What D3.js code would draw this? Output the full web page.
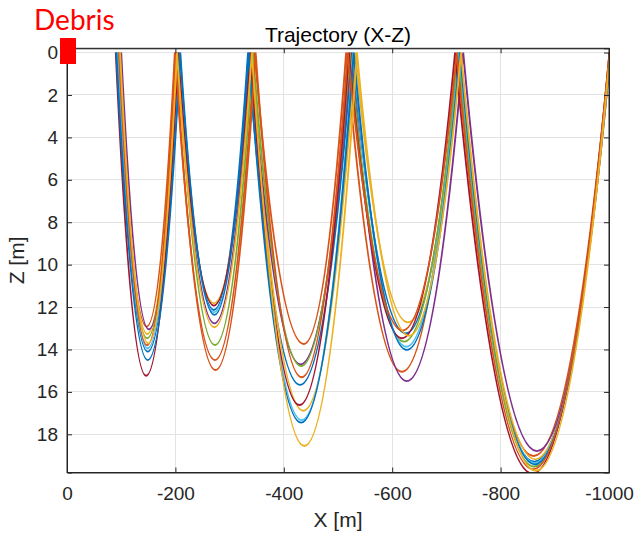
<!DOCTYPE html>
<html>
<head>
<meta charset="utf-8">
<script src="https://cdn.jsdelivr.net/npm/d3@7"></script>
<style>
  html, body { margin: 0; padding: 0; background: #ffffff; }
  svg { display: block; }
</style>
</head>
<body>
<svg id="chart" width="637" height="535"></svg>
<script>
// ---------------- data ----------------
const seriesNames = ["Debris 1","Debris 2","Debris 3","Debris 4","Debris 5",
                     "Debris 6","Debris 7","Debris 8","Debris 9","Debris 10"];
const seriesColors = ["#0072BD","#D95319","#EDB120","#7E2F8E","#77AC30",
                      "#4DBEEE","#A2142F","#0072BD","#D95319","#EDB120"];

// X positions where each trajectory touches Z = 0 (start + end of each of the 5 arcs)
const bounceX = [
  [-92, -208, -334, -526, -723, -1002],
  [-95, -199, -346, -515, -721, -1001],
  [-97, -202, -340, -532, -726, -1003],
  [-100, -205, -339, -524, -731, -1003],
  [-94, -204, -343, -522, -722, -1002],
  [-93, -206, -337, -528, -724, -1002],
  [-90, -205, -338, -520, -716, -1001],
  [-91, -209, -335, -529, -725, -1002],
  [-96, -200, -348, -518, -719, -1001],
  [-98, -203, -341, -535, -727, -1002]
];
// X of the deepest point of each arc
const deepestX = [
  [-149, -271, -430, -625, -862],
  [-147, -273, -437, -618, -861],
  [-148, -271, -436, -629, -864],
  [-151, -272, -431, -627, -867],
  [-148, -273, -432, -622, -862],
  [-149, -271, -433, -626, -863],
  [-146, -271, -429, -618, -859],
  [-149, -272, -432, -627, -863],
  [-148, -274, -433, -619, -860],
  [-150, -272, -438, -631, -865]
];
// Z depth of the deepest point of each arc
const deepestZ = [
  [14.10, 12.14, 15.67, 13.24, 19.29],
  [12.92, 14.50, 13.74, 15.05, 19.02],
  [13.27, 11.82, 16.89, 12.72, 19.18],
  [13.05, 12.77, 14.70, 15.49, 18.79],
  [13.47, 13.79, 14.78, 13.63, 19.53],
  [13.94, 12.25, 17.33, 13.87, 19.36],
  [15.24, 11.93, 16.62, 13.47, 19.85],
  [14.50, 12.37, 17.45, 14.02, 19.42],
  [13.80, 14.97, 15.31, 13.10, 19.65],
  [13.71, 12.95, 18.55, 13.35, 19.72]
];

const xTickValues = [0, -200, -400, -600, -800, -1000];
const zTickValues = [0, 2, 4, 6, 8, 10, 12, 14, 16, 18];
const xDomain = [0, -1000];
const zDomain = [-0.2, 19.8];

const titleText = "Trajectory (X-Z)";
const xLabelText = "X [m]";
const zLabelText = "Z [m]";
const noteText = "Debris";

// ---------------- layout ----------------
const L = 67, R = 609, T = 48.3, B = 472.5;
const svg = d3.select("#chart");
const x = d3.scaleLinear().domain(xDomain).range([L, R]);
const y = d3.scaleLinear().domain(zDomain).range([T, B]);
const FONT = "'Liberation Sans', Arial, Helvetica, sans-serif";
const AX = "#262626";

// clip
svg.append("defs").append("clipPath").attr("id", "plotclip")
  .append("rect").attr("x", L).attr("y", T).attr("width", R - L).attr("height", B - T);

// grid
const grid = svg.append("g").attr("stroke", "#e3e3e3").attr("stroke-width", 1).attr("shape-rendering", "crispEdges");
grid.selectAll("line.gx").data(xTickValues).join("line")
  .attr("x1", d => x(d)).attr("x2", d => x(d)).attr("y1", T).attr("y2", B);
grid.selectAll("line.gy").data(zTickValues).join("line")
  .attr("x1", L).attr("x2", R).attr("y1", d => y(d)).attr("y2", d => y(d));

// curve: parabola-like arcs between touch points and deepest points
function arcCurve(context) {
  let pts = [];
  return {
    areaStart() {}, areaEnd() {},
    lineStart() { pts = []; },
    lineEnd() {
      if (!pts.length) return;
      context.moveTo(pts[0][0], pts[0][1]);
      for (let i = 1; i < pts.length; i++) {
        const [x0, y0] = pts[i - 1], [x1, y1] = pts[i];
        context.quadraticCurveTo((x0 + x1) / 2, Math.max(y0, y1), x1, y1);
      }
    },
    point(px, py) { pts.push([+px, +py]); }
  };
}

const series = seriesNames.map((name, i) => {
  const pts = [[bounceX[i][0], 0]];
  for (let k = 0; k < deepestX[i].length; k++) {
    pts.push([deepestX[i][k], deepestZ[i][k]]);
    pts.push([bounceX[i][k + 1], 0]);
  }
  return { name, color: seriesColors[i], pts };
});

const line = d3.line().x(d => x(d[0])).y(d => y(d[1])).curve(arcCurve);
svg.append("g").attr("clip-path", "url(#plotclip)")
  .selectAll("path").data(series).join("path")
  .attr("d", d => line(d.pts))
  .attr("fill", "none")
  .attr("stroke", d => d.color)
  .attr("stroke-width", 1.9)
  .attr("stroke-linejoin", "miter");

// axes
const tickLen = 5;
const gB = svg.append("g").attr("transform", `translate(0,${B})`)
  .call(d3.axisBottom(x).tickValues(xTickValues).tickSize(-tickLen).tickPadding(14).tickFormat(d => String(d)));
const gT = svg.append("g").attr("transform", `translate(0,${T})`)
  .call(d3.axisTop(x).tickValues(xTickValues).tickSize(-tickLen).tickFormat(""));
const gLft = svg.append("g").attr("transform", `translate(${L},0)`)
  .call(d3.axisLeft(y).tickValues(zTickValues).tickSize(-tickLen).tickPadding(9).tickFormat(d => String(d)));
const gRt = svg.append("g").attr("transform", `translate(${R},0)`)
  .call(d3.axisRight(y).tickValues(zTickValues).tickSize(-tickLen).tickFormat(""));

[gB, gT, gLft, gRt].forEach(g => {
  g.select(".domain").attr("stroke", AX).attr("stroke-width", 1);
  g.selectAll(".tick line").attr("stroke", AX).attr("stroke-width", 1);
  g.selectAll(".tick text").attr("fill", AX).style("font-family", FONT).style("font-size", "19px");
});
// plain box edges (no end ticks)
svg.append("rect").attr("x", L).attr("y", T).attr("width", R - L).attr("height", B - T)
  .attr("fill", "none").attr("stroke", AX).attr("stroke-width", 1);

// texts
svg.append("text").attr("x", (L + R) / 2).attr("y", 42).attr("text-anchor", "middle")
  .style("font-family", FONT).style("font-size", "21px").attr("fill", "#000").text(titleText);
svg.append("text").attr("x", (L + R) / 2).attr("y", 527).attr("text-anchor", "middle")
  .style("font-family", FONT).style("font-size", "21px").attr("fill", AX).text(xLabelText);
svg.append("text").attr("transform", `translate(24,${(T + B) / 2}) rotate(-90)`).attr("text-anchor", "middle")
  .style("font-family", FONT).style("font-size", "21px").attr("fill", AX).text(zLabelText);

// annotation
svg.append("text").attr("x", 34).attr("y", 29.5)
  .style("font-family", "Lato, 'Open Sans', sans-serif").style("font-size", "28px")
  .attr("fill", "#ff0000").text(noteText);
svg.append("rect").attr("x", 60).attr("y", 38).attr("width", 16).attr("height", 26).attr("fill", "#ff0000");
</script>
</body>
</html>
